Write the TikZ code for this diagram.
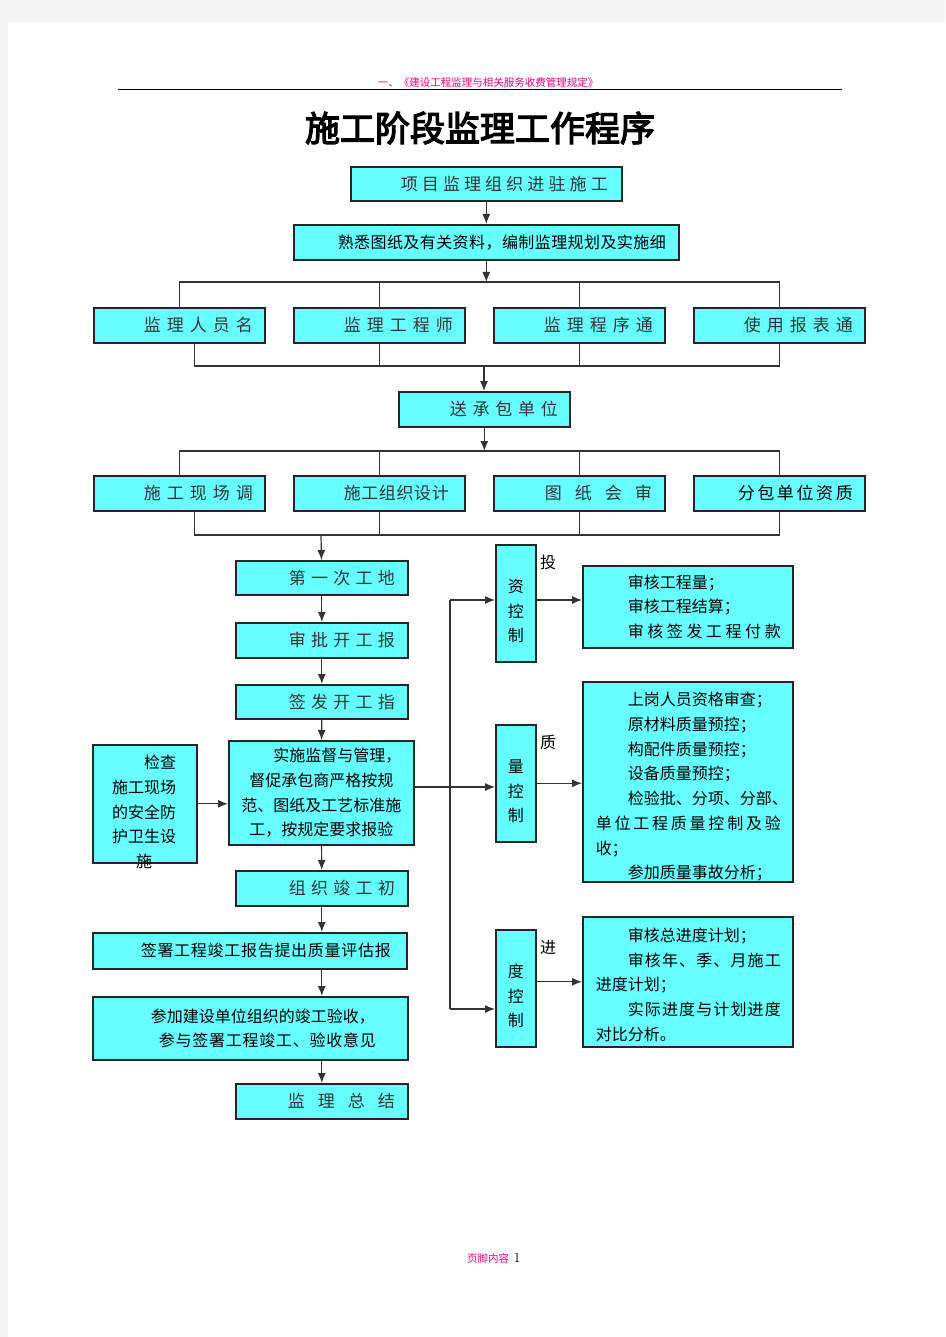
\documentclass[tikz,border=0pt]{standalone}
\usepackage{fontspec}
\usepackage{tikz}
\usetikzlibrary{arrows.meta}
\newfontfamily\cjk{Noto Sans CJK SC}
\newfontfamily\cjkbf[FakeBold=3.5]{Noto Sans CJK SC}
\definecolor{boxcyan}{RGB}{102,255,255}
\definecolor{pagegray}{RGB}{244,244,244}
\definecolor{headpink}{RGB}{255,0,128}

% spread the characters of #2 over the width #1
\makeatletter
\def\sprd@loop#1{\ifx#1\relax\else#1\expandafter\sprd@next\fi}
\def\sprd@next#1{\ifx#1\relax\else\hfill#1\expandafter\sprd@next\fi}
\newcommand\spread[2]{\makebox[#1][l]{\sprd@loop#2\relax}}
\makeatother
% draw #2 lower by #1, keeping its size
\newcommand\lowerby[2]{\raisebox{-#1}[\height][\depth]{#2}}

\tikzset{
  box/.style={draw=black!85, line width=1.6pt, fill=boxcyan, anchor=north west, inner ysep=0pt},
  gbox/.style={box, text width=147pt, inner xsep=12pt, minimum height=35pt, align=right, text=black!80,
    font=\cjk\fontsize{17pt}{20pt}\selectfont},
  tbox/.style={box, inner xsep=13pt, text width=184pt, align=left,
    font=\cjk\fontsize{16pt}{24.7pt}\selectfont},
  vbox/.style={box, minimum width=40pt, minimum height=117pt, inner xsep=0pt,
    font=\cjk\fontsize{16pt}{24.5pt}\selectfont},
  plain/.style={font=\cjk\fontsize{16pt}{24.7pt}\selectfont},
  link/.style={draw=black!80, line width=1.2pt},
  arr/.style={link, -{Latex[length=10pt,width=8pt]}},
}

\begin{document}
\begin{tikzpicture}[x=1pt, y=-1pt]
    \useasboundingbox (0,0) rectangle (945,1337);
    % page
    \fill[pagegray] (0,0) rectangle (945,1337);
    \fill[white] (8,22) rectangle (945,1337);

    % Header and title
    \node[font=\cjk\fontsize{10.5pt}{12pt}\selectfont, text=headpink] (head) at (488,83) {一、《建设工程监理与相关服务收费管理规定》};
    \draw[line width=1pt] (118,90) -- (842,90);
    \node[font=\cjkbf\fontsize{35pt}{40pt}\selectfont] (title) at (480,128) {施工阶段监理工作程序};

    % Top boxes
    \node[gbox, inner xsep=14pt, text width=243pt, minimum height=34pt] (enter) at (350,166) {\spread{207pt}{项目监理组织进驻施工}};
    \node[gbox, inner xsep=13pt, text width=359pt, text=black, font=\cjk\fontsize{16pt}{20pt}\selectfont] (study) at (293,224) {\spread{328pt}{熟悉图纸及有关资料，编制监理规划及实施细}};

    % First row
    \node[gbox] (staff) at (93,307) {\spread{109pt}{监理人员名}};
    \node[gbox] (engr) at (293,307) {\spread{109pt}{监理工程师}};
    \node[gbox] (proc) at (493,307) {\spread{109pt}{监理程序通}};
    \node[gbox] (forms) at (693,307) {\spread{109pt}{使用报表通}};
    \coordinate (busa) at (484,282);
    \coordinate (busb) at (484,366);

    % Send to contractor
    \node[gbox] (send) at (398,391) {\spread{108pt}{送承包单位}};
    \coordinate (busc) at (484,451);
    \coordinate (busd) at (321,535);

    % Second row
    \node[gbox] (survey) at (93,475) {\spread{109pt}{施工现场调}};
    \node[gbox, inner xsep=16pt, text width=139pt] (design) at (293,475) {\spread{105pt}{施工组织设计}};
    \node[gbox, inner xsep=13pt, text width=145pt] (review) at (493,475) {\spread{107pt}{图纸会审}};
    \node[gbox, text=black] (subc) at (693,475) {\spread{115pt}{分包单位资质}};

    % Left column
    \node[gbox, inner xsep=13pt, text width=146pt, minimum height=34pt] (kickoff) at (235,560) {\spread{106pt}{第一次工地}};
    \node[gbox, inner xsep=13pt, text width=146pt] (approve) at (235,622) {\spread{106pt}{审批开工报}};
    \node[gbox, inner xsep=13pt, text width=146pt, minimum height=34pt] (order) at (235,684) {\spread{106pt}{签发开工指}};
    \node[box, align=center, inner xsep=7pt, text width=171pt, minimum height=104pt,
      font=\cjk\fontsize{16pt}{24.7pt}\selectfont] (impl) at (228,740)
      {\hspace*{2em}实施监督与管理，\\督促承包商严格按规\\范、图纸及工艺标准施\\工，按规定要求报验};
    \node[box, minimum width=104pt, minimum height=118pt] (safety) at (92,744) {};
    \node[plain, align=center] (safetytxt) at (144,812) {\hspace*{2em}检查\\施工现场\\的安全防\\护卫生设\\施};
    \node[gbox, inner xsep=13pt, text width=146pt] (prelim) at (235,870) {\spread{106pt}{组织竣工初}};
    \node[gbox, inner xsep=16pt, text width=282pt, minimum height=36pt, text=black,
      font=\cjk\fontsize{16pt}{20pt}\selectfont] (report) at (92,932) {\spread{250pt}{签署工程竣工报告提出质量评估报}};
    \node[box, align=left, inner xsep=12pt, text width=291pt, minimum height=63pt,
      font=\cjk\fontsize{16pt}{24.5pt}\selectfont] (accept) at (92,996)
      {\hspace*{46pt}参加建设单位组织的竣工验收，\\\hspace*{54pt}\spread{217pt}{参与签署工程竣工、验收意见}};
    \node[gbox, inner xsep=13pt, text width=146pt] (summary) at (235,1083) {\spread{107pt}{监理总结}};

    % Control boxes
    \node[vbox] (costctl) at (495,544) {\lowerby{9pt}{\begin{tabular}{@{}c@{}}资\\控\\制\end{tabular}}};
    \node[vbox] (qualctl) at (495,724) {\lowerby{9pt}{\begin{tabular}{@{}c@{}}量\\控\\制\end{tabular}}};
    \node[vbox] (progctl) at (495,929) {\lowerby{9pt}{\begin{tabular}{@{}c@{}}度\\控\\制\end{tabular}}};
    \node[plain] (costlbl) at (548,562) {投};
    \node[plain] (quallbl) at (548,742) {质};
    \node[plain] (proglbl) at (548,947) {进};

    % Right text boxes
    \node[tbox, minimum height=82pt] (costbox) at (582,565)
      {\hspace*{2em}审核工程量；\\\hspace*{2em}审核工程结算；\\\hspace*{2em}\spread{153pt}{审核签发工程付款}};
    \node[tbox, minimum height=200pt] (qualbox) at (582,681)
      {\lowerby{5pt}{\parbox{184pt}{\hspace*{2em}上岗人员资格审查；\\\hspace*{2em}原材料质量预控；\\\hspace*{2em}构配件质量预控；\\\hspace*{2em}设备质量预控；\\
       \hspace*{2em}检验批、分项、分部、\\\spread{185pt}{单位工程质量控制及验}\\收；\\\hspace*{2em}参加质量事故分析；}}};
    \node[tbox, minimum height=130pt] (progbox) at (582,916)
      {\lowerby{3pt}{\parbox{184pt}{\hspace*{2em}审核总进度计划；\\\hspace*{2em}\spread{153pt}{审核年、季、月施工}\\进度计划；\\
       \hspace*{2em}\spread{153pt}{实际进度与计划进度}\\对比分析。}}};

    % Footer
    \node[font=\cjk\fontsize{10.5pt}{12pt}\selectfont, text=headpink] (footer) at (488,1258) {页脚内容};
    \node[font=\fontsize{14pt}{16pt}\selectfont, anchor=west, inner sep=1pt] (pageno) at (footer.east) {1};

    % Connections, top part
    \draw[arr] (enter) -- (study);
    \draw[arr] (study.south) -- (study.south |- busa);
    \draw[link] (staff.north) |- (busa) -| (forms.north);
    \draw[link] (engr.north) -- (engr.north |- busa);
    \draw[link] (proc.north) -- (proc.north |- busa);
    \draw[link] ([xshift=15pt]staff.south) |- (busb) -| (forms.south);
    \draw[link] (engr.south) -- (engr.south |- busb);
    \draw[link] (proc.south) -- (proc.south |- busb);
    \draw[arr] (busb) -- (busb |- send.north);
    \draw[arr] (send.south) -- (send.south |- busc);
    \draw[link] (survey.north) |- (busc) -| (subc.north);
    \draw[link] (design.north) -- (design.north |- busc);
    \draw[link] (review.north) -- (review.north |- busc);
    \draw[link] ([xshift=15pt]survey.south) |- (busd) -| (subc.south);
    \draw[link] (design.south) -- (design.south |- busd);
    \draw[link] (review.south) -- (review.south |- busd);

    % Connections, left column
    \draw[arr] (busd) -- (kickoff);
    \draw[arr] (kickoff) -- (approve);
    \draw[arr] (approve) -- (order);
    \draw[arr] (order) -- (impl);
    \draw[arr] (impl) -- (prelim);
    \draw[arr] (prelim.south) -- (prelim.south |- report.north);
    \draw[arr] (report.south -| prelim.south) -- (accept.north -| prelim.south);
    \draw[arr] (accept.south -| prelim.south) -- (summary.north);
    \draw[arr] (safety.east) -- (safety.east -| impl.west);

    % Connections, controls
    \coordinate (split) at (450,787);
    \coordinate (jtop) at (450,600);
    \coordinate (jbot) at (450,1009);
    \draw[link] (impl.east |- split) -- (split);
    \draw[arr] (split) -- (split -| qualctl.west);
    \draw[link] (jtop) -- (jbot);
    \draw[arr] (jtop) -- (jtop -| costctl.west);
    \draw[arr] (jbot) -- (jbot -| progctl.west);
    \draw[arr] (costctl.east |- jtop) -- (costbox.west |- jtop);
    \draw[arr] (qualctl.east) -- (qualctl.east -| qualbox.west);
    \draw[arr] (progctl.east |- progbox.west) -- (progbox.west);
\end{tikzpicture}
\end{document}
